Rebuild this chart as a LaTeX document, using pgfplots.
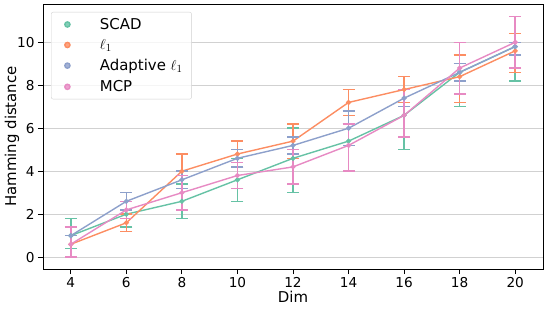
\documentclass[border=0pt]{standalone}
\usepackage{pgfplots}
\pgfplotsset{compat=1.18}
\usepackage{pgfplotstable}
\usepackage{fontspec}
\setmainfont{DejaVu Sans}
\definecolor{cS}{HTML}{66C2A5}
\definecolor{cL}{HTML}{FC8D62}
\definecolor{cA}{HTML}{8DA0CB}
\definecolor{cM}{HTML}{E78AC3}
% x  y  ep  em
\pgfplotstableread{
x y ep em
4 1.0 0.8 0.6
6 2.0 0.6 0.6
8 2.6 0.8 0.8
10 3.6 1.0 1.0
12 4.6 1.4 1.6
14 5.4 0.8 0.2
16 6.6 1.2 1.6
18 8.6 1.4 1.6
20 9.8 1.4 1.6
}\scad
\pgfplotstableread{
x y ep em
4 0.6 0.8 0.6
6 1.6 0.4 0.4
8 4.0 0.8 0.8
10 4.8 0.6 0.6
12 5.4 0.8 0.8
14 7.2 0.6 0.6
16 7.8 0.6 0.6
18 8.4 1.0 1.2
20 9.6 0.8 1.0
}\lone
\pgfplotstableread{
x y ep em
4 1.0 0.0 0.0
6 2.6 0.4 0.4
8 3.6 0.4 0.4
10 4.6 0.4 0.4
12 5.2 0.4 0.4
14 6.0 0.8 0.8
16 7.4 0.4 0.4
18 8.6 0.4 0.4
20 9.8 0.2 0.4
}\adap
\pgfplotstableread{
x y ep em
4 0.6 0.8 0.6
6 2.2 0.4 0.4
8 3.0 0.8 0.8
10 3.8 0.6 0.6
12 4.2 0.8 0.8
14 5.2 1.0 1.2
16 6.6 1.2 1.0
18 8.8 1.2 1.2
20 10.0 1.2 1.2
}\mcp
\pgfplotsset{
  every error bar/.style={line width=1.6bp},
  myerr/.style={line width=1.4bp, mark=*, mark size=1.8bp,
    error bars/.cd, y dir=both, y explicit,
    error bar style={line width=1.6bp},
    error mark options={line width=1.5bp, mark size=6bp, rotate=90},
    /pgfplots/.cd},
}
\begin{document}
\begin{tikzpicture}
\begin{axis}[
  scale only axis,
  width=500bp, height=265bp,
  xmin=3, xmax=21, ymin=-0.55, ymax=11.78,
  xtick={4,6,...,20}, ytick={0,2,...,10},
  /pgf/number format/assume math mode=true,
  tick label style={font=\fontsize{13.7}{16}\selectfont},
  label style={font=\fontsize{15}{18}\selectfont},
  xlabel={Dim}, ylabel={Hamming distance},
  xlabel style={yshift=4bp},
  ylabel style={yshift=-9bp},
  ymajorgrids, grid style={draw=black!18, line width=0.8bp},
  axis line style={line width=0.8bp},
  tick style={black, line width=0.8bp},
  tick align=outside, major tick length=5bp,
  xtick pos=bottom, ytick pos=left,
  legend cell align=left,
  legend style={at={(0,1)}, xshift=8bp, yshift=-8bp, anchor=north west,
    draw=black!18, rounded corners=2bp, fill=white, fill opacity=0.8, text opacity=1,
    font=\fontsize{15}{18}\selectfont, row sep=4.5bp, inner xsep=7bp, inner ysep=4bp},
  legend image code/.code={\fill (0.3cm,0) circle (2.6bp); \path (0,0) (1.35cm,0);},
]
\addplot[cS, myerr] table[x=x, y=y, y error plus=ep, y error minus=em] {\scad};
\addlegendentry{SCAD}
\addplot[cL, myerr] table[x=x, y=y, y error plus=ep, y error minus=em] {\lone};
\addlegendentry{$\ell_1$}
\addplot[cA, myerr] table[x=x, y=y, y error plus=ep, y error minus=em] {\adap};
\addlegendentry{Adaptive $\ell_1$}
\addplot[cM, myerr] table[x=x, y=y, y error plus=ep, y error minus=em] {\mcp};
\addlegendentry{MCP}
\end{axis}
\pgfresetboundingbox
\path ([shift={(-43bp,-40bp)}]current axis.south west) rectangle ([shift={(5bp,4bp)}]current axis.north east);
\end{tikzpicture}
\end{document}
